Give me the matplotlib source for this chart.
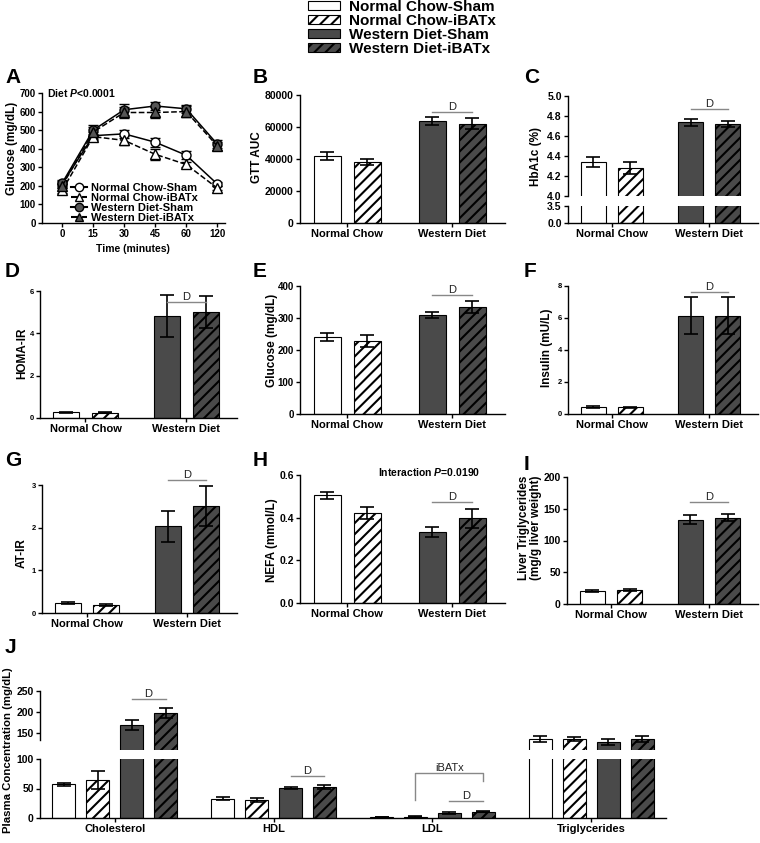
import numpy as np
import matplotlib.pyplot as plt
from matplotlib.patches import Patch
from matplotlib.lines import Line2D
from matplotlib.ticker import FormatStrFormatter

plt.rcParams['font.family'] = ['Liberation Sans', 'DejaVu Sans']
plt.rcParams['font.weight'] = 'bold'
plt.rcParams['mathtext.fontset'] = 'custom'
plt.rcParams['mathtext.it'] = 'Liberation Sans:italic:bold'
plt.rcParams['mathtext.rm'] = 'Liberation Sans:bold'
plt.rcParams['hatch.linewidth'] = 1.5
plt.rcParams['axes.linewidth'] = 1.0

W, H = 760, 843

GROUPS = ['Normal Chow-Sham', 'Normal Chow-iBATx', 'Western Diet-Sham', 'Western Diet-iBATx']
DIETS = ['Normal Chow', 'Western Diet']
FILLS = ['white', 'white', '#4a4a4a', '#4a4a4a']
HATCHES = [None, '///', None, '///']

# A: glucose tolerance test
time_labels = ['0', '15', '30', '45', '60', '120']
gtt_nc_sham = [210, 470, 480, 435, 365, 210]
gtt_nc_sham_err = [18, 22, 22, 25, 20, 12]
gtt_nc_ibatx = [175, 465, 445, 370, 315, 188]
gtt_nc_ibatx_err = [12, 15, 25, 30, 15, 10]
gtt_wd_sham = [215, 500, 610, 630, 615, 425]
gtt_wd_sham_err = [15, 30, 30, 22, 22, 20]
gtt_wd_ibatx = [200, 490, 595, 595, 600, 415]
gtt_wd_ibatx_err = [12, 25, 32, 30, 30, 22]

# B-I: one value per group (NC-Sham, NC-iBATx, WD-Sham, WD-iBATx)
gtt_auc = [42000, 38000, 63500, 62000]
gtt_auc_err = [2500, 1800, 2500, 3500]
hba1c = [4.34, 4.28, 4.74, 4.72]
hba1c_err = [0.05, 0.06, 0.035, 0.03]
homa_ir = [0.27, 0.25, 4.82, 5.0]
homa_ir_err = [0.03, 0.03, 1.0, 0.75]
glucose = [240, 228, 310, 335]
glucose_err = [12, 20, 10, 18]
insulin = [0.45, 0.42, 6.15, 6.15]
insulin_err = [0.05, 0.03, 1.15, 1.15]
at_ir = [0.23, 0.18, 2.03, 2.5]
at_ir_err = [0.02, 0.02, 0.37, 0.47]
nefa = [0.505, 0.422, 0.333, 0.397]
nefa_err = [0.016, 0.028, 0.022, 0.045]
liver_tg = [20.5, 22.5, 133, 136]
liver_tg_err = [1.5, 1.5, 7, 6]

# J: plasma lipids
lipids = ['Cholesterol', 'HDL', 'LDL', 'Triglycerides']
chol = [57, 65, 169, 197]
chol_err = [3, 15, 12, 12]
hdl = [33, 31, 51, 53]
hdl_err = [2, 3.5, 2, 3]
ldl = [1.5, 2.5, 8.5, 10.5]
ldl_err = [0.5, 0.5, 1, 1]
tg = [136, 136, 129, 136]
tg_err = [8, 5, 6, 8]

fig = plt.figure(figsize=(W / 100, H / 100), dpi=100)


def add_ax(left, top, right, bottom):
    return fig.add_axes([left / W, 1 - bottom / H, (right - left) / W, (bottom - top) / H])


def style(ax, fs, bottom=True):
    ax.spines['top'].set_visible(False)
    ax.spines['right'].set_visible(False)
    if not bottom:
        ax.spines['bottom'].set_visible(False)
        ax.set_xticks([])
    ax.tick_params(labelsize=fs, direction='out', length=3, width=1, pad=1.5)


def draw_bars(ax, xs, vals, errs, width, capsize=5):
    for i in range(4):
        ax.bar(xs[i], vals[i], width=width, color=FILLS[i], edgecolor='black',
               hatch=HATCHES[i], linewidth=0.8, zorder=2)
    ax.errorbar(xs, vals, yerr=errs, fmt='none', ecolor='black', elinewidth=1.2,
                capsize=capsize, capthick=1.2, zorder=3)


def sig(ax, x0, x1, y, text='D', fs=8):
    ax.plot([x0, x1], [y, y], color='#888888', lw=1, clip_on=False, zorder=4)
    ax.text((x0 + x1) / 2, y, text, ha='center', va='bottom', fontsize=fs,
            fontweight='normal', color='#222222', clip_on=False)


POS = [-0.19, 0.19, 0.81, 1.19]


def bar_panel(rect, vals, errs, ylim, yticks, fs, fmt=None):
    ax = add_ax(*rect)
    draw_bars(ax, POS, vals, errs, 0.26)
    ax.set_xlim(-0.45, 1.5)
    ax.set_ylim(*ylim)
    ax.set_yticks(yticks)
    if fmt:
        ax.yaxis.set_major_formatter(FormatStrFormatter(fmt))
    ax.set_xticks([0, 1])
    ax.set_xticklabels(DIETS, fontsize=8)
    style(ax, fs)
    ax.tick_params(axis='x', labelsize=8)
    return ax


def ylabel(x, y, text, fs=8.5):
    fig.text(x / W, 1 - y / H, text, rotation=90, ha='center', va='center',
             fontsize=fs, linespacing=1.1)


def letter(x, y, text):
    fig.text(x / W, 1 - y / H, text, ha='left', va='top', fontsize=15)


# ---- A ----
axA = add_ax(42, 93, 225, 223)
tx = np.arange(len(time_labels))
axA.errorbar(tx, gtt_nc_sham, yerr=gtt_nc_sham_err, color='black', ls='-', lw=1.1,
             marker='o', ms=6.5, mfc='white', mec='black', capsize=3.5, elinewidth=1, zorder=3)
axA.errorbar(tx, gtt_nc_ibatx, yerr=gtt_nc_ibatx_err, color='black', ls='--', lw=1.1,
             marker='^', ms=6.5, mfc='white', mec='black', capsize=3.5, elinewidth=1, zorder=3)
axA.errorbar(tx, gtt_wd_sham, yerr=gtt_wd_sham_err, color='black', ls='-', lw=1.1,
             marker='o', ms=6.5, mfc='#555555', mec='black', capsize=3.5, elinewidth=1, zorder=3)
axA.errorbar(tx, gtt_wd_ibatx, yerr=gtt_wd_ibatx_err, color='black', ls='--', lw=1.1,
             marker='^', ms=6.5, mfc='#555555', mec='black', capsize=3.5, elinewidth=1, zorder=3)
axA.set_xlim(-0.65, 5.25)
axA.set_ylim(0, 700)
axA.set_yticks(range(0, 701, 100))
axA.set_xticks(tx)
axA.set_xticklabels(time_labels)
style(axA, 7)
axA.text(0.03, 1.0, 'Diet $P$<0.0001', transform=axA.transAxes, fontsize=7.5,
         ha='left', va='center')
handlesA = [
    Line2D([], [], color='black', ls='-', marker='o', mfc='white', mec='black', ms=6),
    Line2D([], [], color='black', ls='--', marker='^', mfc='white', mec='black', ms=6),
    Line2D([], [], color='black', ls='-', marker='o', mfc='#555555', mec='black', ms=6),
    Line2D([], [], color='black', ls='--', marker='^', mfc='#555555', mec='black', ms=6),
]
axA.legend(handlesA, GROUPS, loc='lower left', bbox_to_anchor=(0.16, 0.0), frameon=False,
           fontsize=8, handlelength=1.4, handletextpad=0.4, labelspacing=0.0,
           borderpad=0, borderaxespad=0)
fig.text(133 / W, 1 - 249 / H, 'Time (minutes)', ha='center', va='center', fontsize=7.5)
ylabel(12, 148, 'Glucose (mg/dL)')

# ---- B ----
axB = bar_panel((300, 95, 505, 223), gtt_auc, gtt_auc_err, (0, 80000),
                range(0, 80001, 20000), 7.5)
sig(axB, POS[2], POS[3], 69500)
ylabel(257, 157, 'GTT AUC')

# ---- C (broken axis) ----
axCt = add_ax(568, 96, 758, 196)
axCb = add_ax(568, 206, 758, 223)
for ax in (axCt, axCb):
    draw_bars(ax, POS, hba1c, hba1c_err, 0.26)
    ax.set_xlim(-0.45, 1.5)
    ax.yaxis.set_major_formatter(FormatStrFormatter('%.1f'))
axCt.set_ylim(4.0, 5.0)
axCt.set_yticks(np.arange(4.0, 5.01, 0.2))
style(axCt, 7.5, bottom=False)
axCb.set_ylim(0, 3.5)
axCb.set_yticks([0, 3.5])
axCb.set_xticks([0, 1])
axCb.set_xticklabels(DIETS)
style(axCb, 7.5)
axCb.tick_params(axis='x', labelsize=8)
sig(axCt, POS[2], POS[3], 4.87)
ylabel(536, 157, 'HbA1c (%)')

# ---- D, E, F ----
axD = bar_panel((40, 291, 237, 418), homa_ir, homa_ir_err, (0, 6), [0, 2, 4, 6], 5.5)
sig(axD, POS[2], POS[3], 5.48)
ylabel(22, 353, 'HOMA-IR')

axE = bar_panel((300, 286, 505, 414), glucose, glucose_err, (0, 400),
                range(0, 401, 100), 7)
sig(axE, POS[2], POS[3], 372)
ylabel(272, 340, 'Glucose (mg/dL)')

axF = bar_panel((568, 286, 758, 414), insulin, insulin_err, (0, 8), [0, 2, 4, 6, 8], 5.5)
sig(axF, POS[2], POS[3], 7.6)
ylabel(547, 348, 'Insulin (mU/L)')

# ---- G, H, I ----
axG = bar_panel((42, 485, 237, 613), at_ir, at_ir_err, (0, 3), [0, 1, 2, 3], 5.5)
sig(axG, POS[2], POS[3], 3.12)
ylabel(22, 553, 'AT-IR')

axH = bar_panel((300, 475, 505, 603), nefa, nefa_err, (0, 0.6),
                [0, 0.2, 0.4, 0.6], 7.5, fmt='%.1f')
sig(axH, POS[2], POS[3], 0.473)
fig.text(378 / W, 1 - 472 / H, 'Interaction $P$=0.0190', ha='left', va='center',
         fontsize=7.5)
ylabel(272, 540, 'NEFA (mmol/L)')

axI = bar_panel((567, 477, 758, 604), liver_tg, liver_tg_err, (0, 200),
                range(0, 201, 50), 7.5)
sig(axI, POS[2], POS[3], 160)
ylabel(530, 528, 'Liver Triglycerides\n(mg/g liver weight)')

# ---- J (broken axis) ----
axJt = add_ax(40, 691, 666, 750)
axJb = add_ax(40, 759, 666, 818)
offs = [-0.32, -0.107, 0.107, 0.32]
jx = np.arange(len(lipids))
series = [chol, hdl, ldl, tg]
series_err = [chol_err, hdl_err, ldl_err, tg_err]
for ax in (axJt, axJb):
    for k in range(len(lipids)):
        draw_bars(ax, [jx[k] + o for o in offs], series[k], series_err[k], 0.145, capsize=5)
    ax.set_xlim(-0.47, 3.47)
axJt.set_ylim(110, 250)
axJt.set_yticks([150, 200, 250])
style(axJt, 7.5, bottom=False)
axJt.spines['left'].set_bounds(133, 250)
axJb.set_ylim(0, 100)
axJb.set_yticks([0, 50, 100])
axJb.set_xticks(jx)
axJb.set_xticklabels(lipids)
style(axJb, 7.5)
axJb.tick_params(axis='x', labelsize=8)
sig(axJt, offs[2], offs[3], 231)
sig(axJb, 1 + offs[2], 1 + offs[3], 71)
sig(axJb, 2 + offs[2], 2 + offs[3], 29)
bx0, bx1 = 2 + offs[1], 2 + offs[3]
axJb.plot([bx0, bx0, bx1, bx1], [30.5, 76, 76, 63], color='#888888', lw=1, zorder=4)
axJb.text((bx0 + bx1) / 2, 76.5, 'iBATx', ha='center', va='bottom', fontsize=8,
          fontweight='normal', color='#222222')
ylabel(8, 750, 'Plasma Concentration (mg/dL)', fs=8.2)

# ---- panel letters ----
for (x, y, t) in [(5, 68, 'A'), (253, 68, 'B'), (524, 68, 'C'),
                  (5, 262, 'D'), (253, 262, 'E'), (524, 262, 'F'),
                  (5, 451, 'G'), (253, 451, 'H'), (524, 455, 'I'),
                  (5, 638, 'J')]:
    letter(x, y, t)

# ---- top legend ----
handles = [Patch(facecolor=FILLS[i], edgecolor='black', hatch=HATCHES[i], linewidth=0.8)
           for i in range(4)]
fig.legend(handles, GROUPS, loc='upper left', bbox_to_anchor=(308 / W, 1.0),
           frameon=False, fontsize=11, handlelength=2.1, handleheight=0.55,
           handletextpad=0.6, labelspacing=0.0, borderpad=0, borderaxespad=0)

fig.savefig('out.png', dpi=100)
